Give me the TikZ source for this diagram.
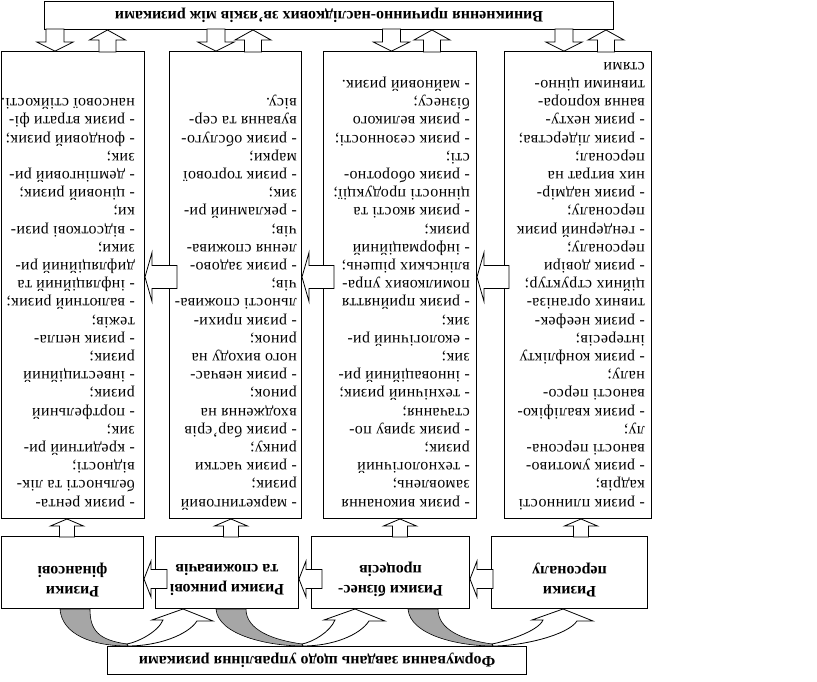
\documentclass[tikz,border=0pt]{standalone}
\usepackage{fontspec}
\setmainfont{Liberation Serif}
\newfontfamily\listfont[LetterSpace=2]{Liberation Serif}

% блокова стрілка: #1 вістря, #2 кут, #3 пів-ширина стовбура,
% #4 пів-ширина вістря, #5 довжина вістря, #6 повна довжина
\newcommand{\barrow}[6]{%
  \draw[blockarrow, shift={#1}, rotate=#2]
    (0,0) -- (-#5,#4) -- (-#5,#3) -- (-#6,#3) -- (-#6,-#3)
    -- (-#5,-#3) -- (-#5,-#4) -- cycle}

\begin{document}
\begin{tikzpicture}[x=1pt, y=-1pt, rotate=180, transform shape,
    box/.style={draw, line width=0.9pt, inner sep=0pt, anchor=north west},
    headbox/.style={box, minimum height=28, font=\fontsize{16}{19}\selectfont\bfseries},
    riskbox/.style={box, minimum height=72},
    riskname/.style={inner sep=0pt, align=center, font=\fontsize{16}{20}\selectfont\bfseries},
    column/.style={box, minimum height=467},
    risklist/.style={inner sep=0pt, anchor=north west, align=left, font=\listfont\fontsize{16}{18.2}\selectfont},
    blockarrow/.style={draw, line width=0.8pt, fill=white, line join=miter},
    backside/.style={draw, line width=0.6pt, fill=black!35}]
  \useasboundingbox (0,0) rectangle (817,682);

  % верхній блок
  \node[headbox, minimum width=419] (task) at (290,7) {Формування завдань щодо управління ризиками};

  % групи ризиків
  \node[riskbox, minimum width=156] (catA) at (169,73) {};
  \node[riskbox, minimum width=158] (catB) at (347,73) {};
  \node[riskbox, minimum width=143] (catC) at (518,73) {};
  \node[riskbox, minimum width=142] (catD) at (673,73) {};
  \node[riskname] (nameA) at ([yshift=7pt]catA.center) {Ризики\\персоналу};
  \node[riskname] (nameB) at ([yshift=7pt]catB.center) {Ризики бізнес-\\процесів};
  \node[riskname] (nameC) at ([yshift=7pt]catC.center) {Ризики ринкові\\та споживачів};
  \node[riskname] (nameD) at ([yshift=7pt]catD.center) {Ризики\\фінансові};

  % стовпці з переліками
  \node[column, minimum width=147] (colA) at (165,163) {};
  \node[column, minimum width=153] (colB) at (340,163) {};
  \node[column, minimum width=132] (colC) at (515,163) {};
  \node[column, minimum width=143] (colD) at (672,163) {};

  \node[risklist] (listA) at (172,170) {\strut- ризик плинності\\кадрів;\\- ризик умотиво-\\ваності персона-\\лу;\\- ризик кваліфіко-\\ваності персо-\\налу;\\- ризик конфлікту\\інтересів;\\- ризик неефек-\\тивних організа-\\ційних структур;\\- ризик довіри\\персоналу;\\- гендерний ризик\\персоналу;\\- ризик надмір-\\них витрат на\\персонал;\\- ризик лідерства;\\- ризик нехту-\\вання корпора-\\тивними цінно-\\стями};
  \node[risklist] (listB) at (347,170) {\strut- ризик виконання\\замовлень;\\- технологічний\\ризик;\\- ризик зриву по-\\стачання;\\- технічний ризик;\\- інноваційний ри-\\зик;\\- екологічний ри-\\зик;\\- ризик прийняття\\помилкових упра-\\влінських рішень;\\- інформаційний\\ризик;\\- ризик якості та\\цінності продукції;\\- ризик оборотно-\\сті;\\- ризик сезонності;\\- ризик великого\\бізнесу;\\- майновий ризик.};
  \node[risklist] (listC) at (520,170) {\strut- маркетинговий\\ризик;\\- ризик частки\\ринку;\\- ризик бар’єрів\\входження на\\ринок;\\- ризик невчас-\\ного виходу на\\ринок;\\- ризик прихи-\\льності спожива-\\чів;\\- ризик задово-\\лення спожива-\\чів;\\- рекламний ри-\\зик;\\- ризик торгової\\марки;\\- ризик обслуго-\\вування та сер-\\вісу.};
  \node[risklist] (listD) at (682,170) {\strut- ризик рента-\\бельності та лік-\\відності;\\- кредитний ри-\\зик;\\- портфельний\\ризик;\\- інвестиційний\\ризик;\\- ризик непла-\\тежів;\\- валютний ризик;\\- інфляційний та\\дифляційний ри-\\зики;\\- відсоткові ризи-\\ки;\\- ціновий ризик;\\- демпінговий ри-\\зик;\\- фондовий ризик;\\- ризик втрати фі-\\нансової стійкості.};

  % нижній блок
  \node[headbox, minimum width=569] (links) at (203,652) {Виникнення причинно-наслідкових зв’язків між ризиками};

  % стрілки між групами і між стовпцями
  \foreach \cat in {catB,catC,catD} {\barrow{(\cat.west |- 0,103)}{0}{9.5}{18}{7}{23};}
  \foreach \col in {colB,colC,colD} {\barrow{(\col.west |- 0,405)}{0}{11.5}{24.5}{7}{32};}

  % від груп до стовпців
  \foreach \col/\xa in {colA/236,colB/417,colC/586,colD/750}
    {\barrow{(\col.north -| \xa,0)}{-90}{7.5}{16.5}{7}{18};}

  % зв'язок стовпців з нижнім блоком
  \foreach \col/\xu/\xd in {colA/253/211, colB/425.5/385, colC/601/564, colD/762/709.5} {
    \barrow{(\col.south -| \xu,0)}{90}{9}{18}{9}{22};
    \barrow{(links.north -| \xd,0)}{-90}{8.5}{18}{10}{22};
  }

  % вигнуті стрілки від верхнього блоку до груп
  \foreach \xg/\xm/\xt in {757/689/634, 601/514/462, 409/324/254} {
    \draw[backside] (\xg,73) .. controls (\xg-2,47) and (\xm+35,36) .. (\xm,36)
      -- (\xm+1,38) .. controls (\xm+30,42) and (\xg-30,52) .. (\xg-30,73) -- cycle;
    \draw[blockarrow] (\xm,36) .. controls (\xm-30,36) and (\xt-5,47) .. (\xt-14,61)
      -- (\xt-30,61) -- (\xt,73) -- (\xt+31,62) -- (\xt+20,62)
      .. controls (\xt+25,50) and (\xm-10,40) .. (\xm+1,38) -- cycle;
  }
\end{tikzpicture}
\end{document}
